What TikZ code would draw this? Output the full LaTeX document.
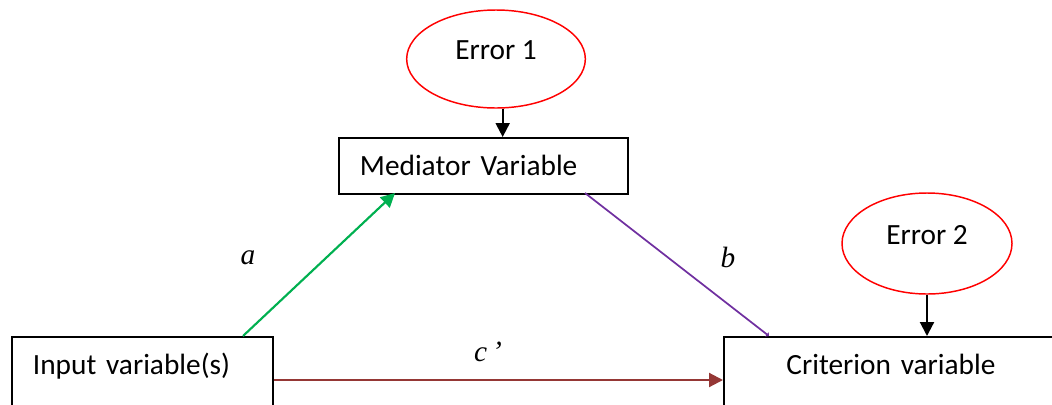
\documentclass[tikz,border=0pt]{standalone}
\usepackage{fontspec}
\setmainfont{Carlito}
\newfontfamily\pathfont{Liberation Serif}
\usetikzlibrary{arrows.meta,shapes.geometric}
\definecolor{errred}{HTML}{FF0000}
\definecolor{pathA}{HTML}{00B050}
\definecolor{pathB}{HTML}{7030A0}
\definecolor{pathC}{HTML}{953735}

\begin{document}
\begin{tikzpicture}[
          x=0.75pt, y=-0.75pt,
          font=\fontsize{22}{26}\selectfont,
          varbox/.style={draw=black, line width=1.4pt, anchor=north west,
                         inner xsep=15.75pt, inner ysep=0pt, text height=28.5pt},
          errnode/.style={ellipse, draw=errred, line width=1.1pt, inner sep=0pt,
                          text depth=13pt},
          fl/.style={-{Triangle[length=10.5pt,width=10.5pt]}, line width=1.6pt},
          coef/.style={font=\pathfont\itshape\fontsize{22}{26}\selectfont}
        ]
        \useasboundingbox (0,0) rectangle (1052,404);
        \clip (0,0) rectangle (1052,404);

        % variables
        \node[varbox, align=left, text width=185.25pt, text depth=13.5pt] (med) at (338,137) {Mediator Variable};
        \node[varbox, align=left, text width=164.25pt, text depth=40pt] (inp) at (11,336) {Input variable(s)};
        \node[varbox, align=center, text width=219pt, text depth=40pt] (crit) at (723,336) {Criterion variable};

        % error terms
        \node[errnode, minimum width=134pt, minimum height=73.5pt] (err1) at (496,59) {Error 1};
        \node[errnode, minimum width=127.5pt, minimum height=75.75pt] (err2) at (927,243.5) {Error 2};

        \draw[fl] ([xshift=5pt]err1.south) -- ([xshift=5pt]err1.south |- med.north);
        \draw[fl] (err2.south) -- (err2.south |- crit.north);

        % paths a, b, c'
        \coordinate (aout) at (243,336);
        \coordinate (ain) at (395,193);
        \coordinate (bout) at (585,193);
        \coordinate (bin) at (769,336);
        \draw[fl, draw=pathA, fill=pathA] (aout) -- (ain);
        \draw[-{Triangle[length=2pt,width=4pt]}, line width=1.3pt, draw=pathB, fill=pathB] (bout) -- (bin);
        \draw[fl, draw=pathC, fill=pathC] (inp.east |- 0,380) -- (crit.west |- 0,380);

        \node[coef] (la) at (248,258) {a};
        \node[coef] (lb) at (728,257) {b};
        \node[coef] (lc) at (488,352) {c\,’};
\end{tikzpicture}
\end{document}
